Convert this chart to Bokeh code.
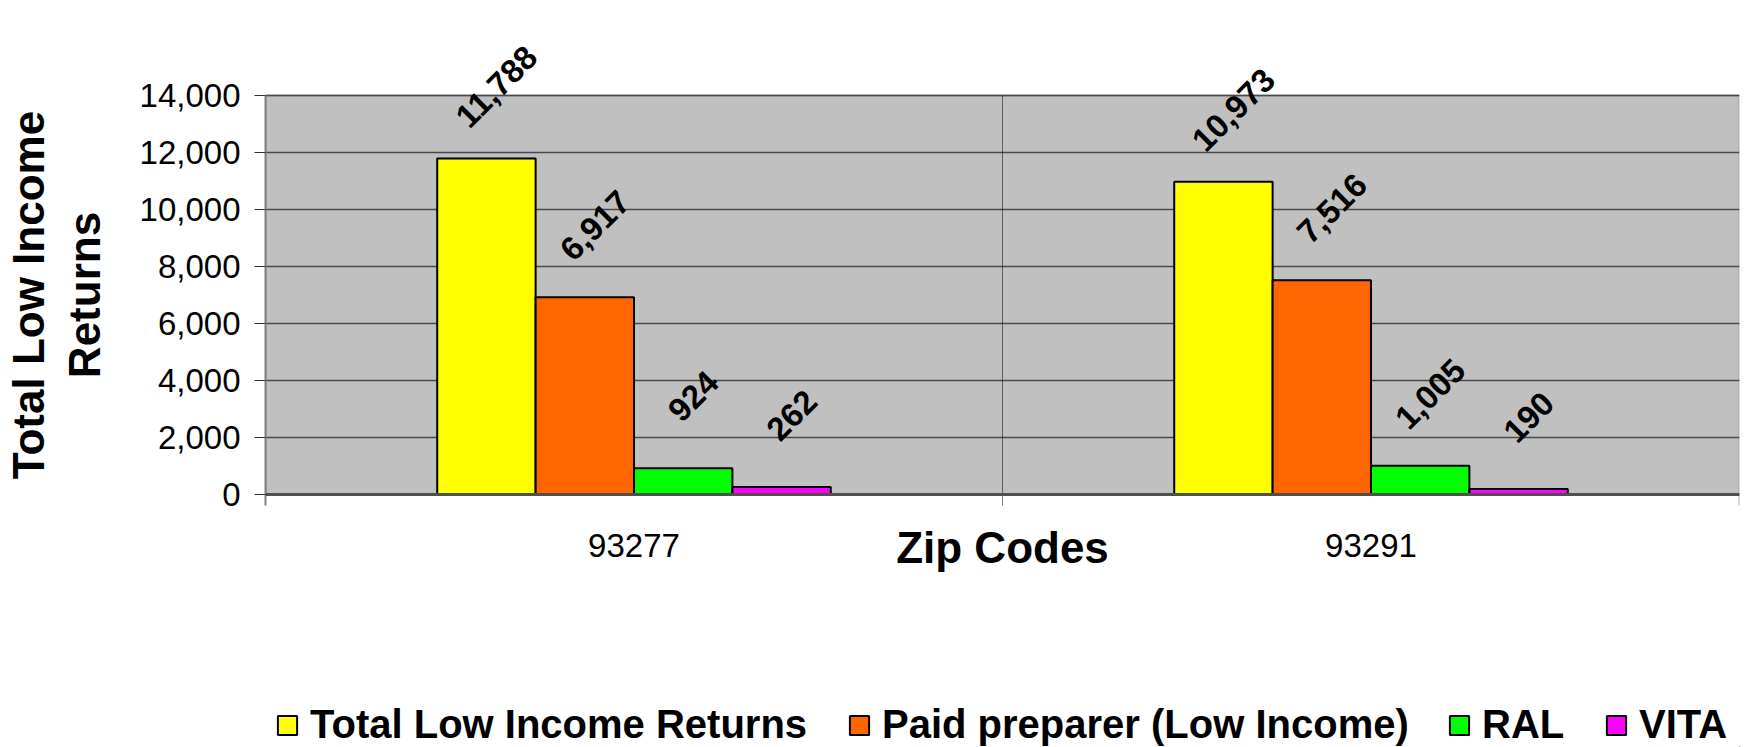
import math
from bokeh.plotting import figure
from bokeh.layouts import column
from bokeh.core.properties import value
from bokeh.models import (FactorRange, Range1d, FixedTicker, NumeralTickFormatter, Span, Label,
                          ColumnDataSource, LabelSet, Legend, LegendItem, BoxAnnotation)
from bokeh.transform import dodge
from bokeh.embed import file_html
from bokeh.resources import INLINE

# ---- data ----
zips = ["93277", "93291"]
series_names = ["Total Low Income Returns", "Paid preparer (Low Income)", "RAL", "VITA"]
total_low_income = [11788, 10973]
paid_preparer = [6917, 7516]
ral = [924, 1005]
vita = [262, 190]
y_ticks = [0, 2000, 4000, 6000, 8000, 10000, 12000, 14000]
y_max = 14000
x_title = "Zip Codes"
y_title = "Total Low Income\nReturns"
colors = ["#FFFF00", "#FF6600", "#00FF00", "#FF00FF"]

FONT = "Liberation Sans"

series = [total_low_income, paid_preparer, ral, vita]
data = {"zip": zips}
for i, s in enumerate(series):
    data[f"s{i}"] = s
    data[f"t{i}"] = [f"{v:,}" for v in s]
src = ColumnDataSource(data)

# layout (pixels): top of plot area, zero line, bottom of frame
TOP_PX, ZERO_PX, FRAME_BOTTOM_PX = 95, 494, 589
ppu = (ZERO_PX - TOP_PX) / y_max
y_end = y_max + TOP_PX / ppu
y_start = -(FRAME_BOTTOM_PX - ZERO_PX) / ppu
tick_len = 11 / ppu

p = figure(width=1757, height=FRAME_BOTTOM_PX, x_range=FactorRange(*zips),
           y_range=Range1d(y_start, y_end),
           output_backend="svg", toolbar_location=None, title=None,
           x_axis_location=None, y_axis_location="left",
           min_border_left=264, min_border_right=18, min_border_top=0, min_border_bottom=0)

p.background_fill_color = "white"
p.border_fill_color = "white"
p.outline_line_color = None
p.xgrid.visible = False
p.ygrid.grid_line_color = "#4a4a4a"
p.ygrid.grid_line_width = 1.5

# grey plot area with grey border
p.add_layout(BoxAnnotation(bottom=0, top=y_max, fill_color="#C0C0C0", fill_alpha=1,
                           line_color="#808080", line_width=3, level="image"))
# divider between the two categories (with its tick) and right-end tick
p.add_layout(BoxAnnotation(left=1, right=1, bottom=-tick_len, top=y_max, fill_alpha=0,
                           line_color="black", line_width=1, level="underlay"))
p.add_layout(BoxAnnotation(left=2, right=2, bottom=-tick_len, top=0, fill_alpha=0,
                           line_color="black", line_width=2, level="underlay"))
# category axis line
p.add_layout(Span(location=0, dimension="width", line_color="#505050", line_width=3))

# y axis
ya = p.yaxis[0]
ya.ticker = FixedTicker(ticks=y_ticks)
ya.bounds = (-tick_len, y_max)
ya.formatter = NumeralTickFormatter(format="0,0")
ya.major_label_text_font = FONT
ya.major_label_text_font_size = "33px"
ya.major_label_text_color = "black"
ya.major_tick_out = 11
ya.major_tick_in = 0
ya.major_tick_line_color = "#333333"
ya.minor_tick_line_color = None
ya.major_label_standoff = 14
ya.axis_line_color = "#808080"
ya.axis_line_width = 2
ya.axis_label = y_title
ya.axis_label_text_font = FONT
ya.axis_label_text_font_size = "44px"
ya.axis_label_text_font_style = "bold"
ya.axis_label_text_color = "black"
ya.axis_label_text_line_height = 1.14
ya.axis_label_standoff = 28

# category labels and x title
p.add_layout(LabelSet(x=dodge("zip", 0, range=p.x_range), y=0, text="zip", source=src,
                      y_offset=-51, text_align="center", text_baseline="middle",
                      text_font=value(FONT), text_font_size="33px", text_color="black"))
p.add_layout(Label(x=1, y=0, y_offset=-53, text=x_title, text_align="center",
                   text_baseline="middle", text_font=FONT, text_font_size="44px",
                   text_font_style="bold", text_color="black"))

# bars
w = 0.1335
offsets = [-1.5 * w, -0.5 * w, 0.5 * w, 1.5 * w]
for i in range(4):
    p.vbar(x=dodge("zip", offsets[i], range=p.x_range), top=f"s{i}", width=w, source=src,
           fill_color=colors[i], line_color="black", line_width=2)
    p.add_layout(LabelSet(x=dodge("zip", offsets[i], range=p.x_range), y=f"s{i}", text=f"t{i}",
                          source=src, angle=math.pi / 4, text_align="center", text_baseline="middle",
                          x_offset=10, y_offset=72, text_font=value(FONT),
                          text_font_size="33px", text_font_style="bold",
                          text_color="black"))

# ---- legend strip (its frame lines up with the chart frame) ----
leg_x = [10, 582, 1182, 1339]
q = figure(width=1757, height=747 - FRAME_BOTTOM_PX, x_range=Range1d(0, 1), y_range=Range1d(0, 1),
           output_backend="svg", toolbar_location=None, title=None,
           x_axis_location=None, y_axis_location=None,
           min_border_left=0, min_border_right=0, min_border_top=0, min_border_bottom=0)
q.outline_line_color = None
q.xgrid.visible = False
q.ygrid.visible = False
# zero-size placeholder bars that only supply the legend swatches
placeholder = ColumnDataSource(dict(x=[5], top=[0]))
for i in range(4):
    r = q.vbar(x="x", top="top", width=0, source=placeholder, fill_color=colors[i],
               line_color="black", line_width=2)
    lg = Legend(items=[LegendItem(label=series_names[i], renderers=[r])],
                location=(leg_x[i], 0), orientation="horizontal",
                glyph_width=24, glyph_height=24, label_standoff=11,
                padding=0, margin=0, border_line_color=None, background_fill_alpha=0,
                label_text_font=FONT, label_text_font_style="bold", label_text_font_size="40px",
                label_text_color="black")
    q.add_layout(lg, "center")

open("out.html", "w").write(file_html(column(p, q), INLINE))
